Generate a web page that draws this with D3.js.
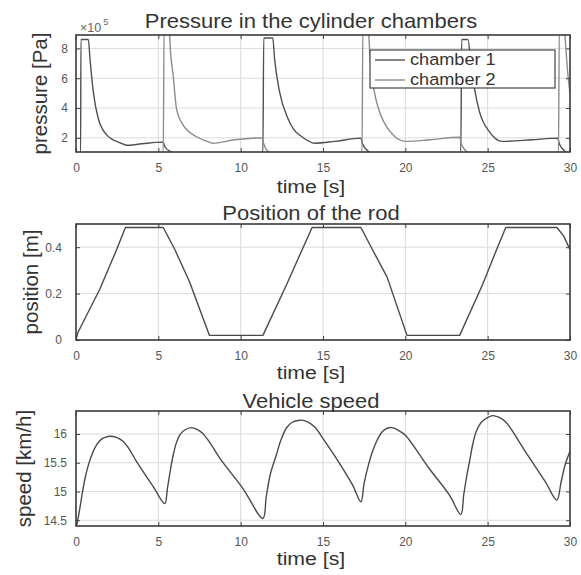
<!DOCTYPE html>
<html>
<head>
<meta charset="utf-8">
<title>Pressure, position and speed</title>
<style>
  body { margin: 0; background: #fff; }
  svg { display: block; font-family: "Liberation Sans", Arial, sans-serif; }
  .tick text { fill: #555; font-size: 12px; }
  .tick line { stroke: #444; }
</style>
</head>
<body>
<svg id="chart" width="581" height="575"></svg>
<script src="https://d3js.org/d3.v7.min.js"></script>
<script>
// time axis, shared by the three plots
const xTicks = [0, 5, 10, 15, 20, 25, 30];

// pressure in chamber 1 [x 10^5 Pa]
const c1Time = [0, 0.28, 0.3, 0.75, 0.85, 1.05, 1.35, 1.6, 1.86, 2.2, 2.67, 3.07, 4.0, 5.3, 5.4, 5.7, 5.9,
  11.35, 11.4, 11.95, 12.06, 12.36, 12.87, 13.2, 13.7, 14.5, 15.7, 17.3, 17.4, 17.75, 17.95,
  23.37, 23.42, 23.8, 24.0, 24.2, 24.5, 25.1, 25.9, 27.7, 29.25, 29.35, 29.7, 29.9, 30];
const c1Pres = [1.0, 1.0, 8.6, 8.6, 7.3, 5.1, 3.3, 2.6, 2.2, 1.9, 1.67, 1.5, 1.6, 1.71, 1.4, 1.1, 1.0,
  1.0, 8.7, 8.7, 7.3, 5.1, 3.3, 2.6, 2.09, 1.64, 1.76, 1.98, 1.6, 1.1, 1.0,
  1.0, 8.6, 8.6, 6.8, 5.3, 3.76, 2.42, 1.76, 1.87, 1.98, 1.6, 1.1, 1.0, 1.0];

// pressure in chamber 2 [x 10^5 Pa]
const c2Time = [0, 5.3, 5.35, 5.65, 5.75, 5.9, 6.1, 6.5, 7.3, 8.1, 8.3, 9.64, 11.3, 11.4, 11.65, 11.85,
  17.37, 17.42, 17.75, 17.85, 18.1, 18.4, 19.0, 20.0, 21.5, 23.3, 23.4, 23.7, 23.9,
  29.3, 29.35, 29.65, 29.75, 29.85, 30];
const c2Pres = [1.0, 1.0, 9.3, 9.3, 7.6, 6.2, 3.98, 2.87, 2.09, 1.71, 1.64, 1.87, 2.0, 1.6, 1.1, 1.0,
  1.0, 9.3, 9.3, 7.5, 5.2, 3.87, 2.53, 1.76, 1.87, 2.04, 1.6, 1.1, 1.0,
  1.0, 9.3, 9.3, 8.0, 6.5, 5.0];

// rod position [m]
const posTime = [0, 0.1, 1.45, 2.47, 3.0, 5.3, 6.0, 6.9, 8.1, 11.35, 12.8, 13.8, 14.34, 17.3, 18.0, 18.9, 20.1,
  23.3, 24.7, 25.6, 26.1, 29.2, 29.6, 30];
const posVal = [0, 0.03, 0.22, 0.39, 0.485, 0.485, 0.39, 0.25, 0.02, 0.02, 0.24, 0.40, 0.485, 0.485, 0.39, 0.27, 0.02,
  0.02, 0.24, 0.40, 0.485, 0.485, 0.45, 0.39];

// vehicle speed [km/h]
const spdTime = [0.05, 0.2, 0.4, 0.55, 0.85, 1.25, 1.55, 1.86, 2.1, 2.45, 2.87, 3.2, 3.68, 4.7, 5.39,
  5.55, 5.75, 5.9, 6.1, 6.3, 6.6, 7.0, 7.35, 7.7, 8.2, 8.73, 10.14, 11.35,
  11.55, 11.8, 12.16, 12.45, 12.77, 13.1, 13.58, 14.0, 14.5, 15.0, 15.8, 16.8, 17.3,
  17.5, 17.75, 18.0, 18.3, 18.6, 18.9, 19.2, 19.6, 20.0, 21.45, 22.67, 23.37,
  23.55, 23.75, 23.9, 24.1, 24.3, 24.6, 24.9, 25.3, 25.7, 26.1, 27.3, 28.5, 29.2, 29.45, 29.7, 30];
const spdVal = [14.42, 14.65, 15.0, 15.23, 15.55, 15.81, 15.91, 15.95, 15.96, 15.94, 15.87, 15.75, 15.52, 15.08, 14.79,
  15.05, 15.4, 15.63, 15.85, 15.98, 16.07, 16.11, 16.08, 16.01, 15.82, 15.58, 15.05, 14.53,
  14.9, 15.3, 15.63, 15.9, 16.1, 16.2, 16.24, 16.22, 16.12, 15.92, 15.58, 15.11, 14.82,
  15.15, 15.45, 15.69, 15.9, 16.04, 16.1, 16.11, 16.06, 15.98, 15.4, 14.94, 14.6,
  14.95, 15.3, 15.52, 15.83, 16.04, 16.2, 16.27, 16.32, 16.29, 16.21, 15.69, 15.17, 14.85, 15.15, 15.46, 15.7];

const presTicks = [2, 4, 6, 8];
const posTicks = [0, 0.2, 0.4];
const spdTicks = [14.5, 15, 15.5, 16];

const svg = d3.select("#chart");
const left = 76, right = 570;
const x = d3.scaleLinear().domain([0, 30]).range([left, right]);

const zip = (t, v) => t.map((d, i) => ({ t: d, v: v[i] }));

const panels = [
  {
    top: 35, bottom: 152, domain: [1.05, 8.9], ticks: presTicks, pad: 8,
    title: "Pressure in the cylinder chambers", titleY: 28,
    ylabel: "pressure [Pa]", ylabelX: 47, xlabelY: 193,
    series: [
      { data: zip(c1Time, c1Pres), color: "#505050", curve: d3.curveMonotoneX },
      { data: zip(c2Time, c2Pres), color: "#8c8c8c", curve: d3.curveMonotoneX }
    ]
  },
  {
    top: 224, bottom: 340, domain: [0, 0.5], ticks: posTicks, pad: 14,
    title: "Position of the rod", titleY: 220,
    ylabel: "position [m]", ylabelX: 38, xlabelY: 379,
    series: [{ data: zip(posTime, posVal), color: "#4a4a4a", curve: d3.curveLinear }]
  },
  {
    top: 411, bottom: 526, domain: [14.4, 16.4], ticks: spdTicks, pad: 9,
    title: "Vehicle speed", titleY: 408,
    ylabel: "speed [km/h]", ylabelX: 31, xlabelY: 565,
    series: [{ data: zip(spdTime, spdVal), color: "#4a4a4a", curve: d3.curveCatmullRom.alpha(0.5) }]
  }
];

panels.forEach((p, i) => {
  const y = d3.scaleLinear().domain(p.domain).range([p.bottom, p.top]);
  const g = svg.append("g");

  svg.append("clipPath").attr("id", "clip" + i)
    .append("rect")
    .attr("x", left).attr("y", p.top)
    .attr("width", right - left).attr("height", p.bottom - p.top);

  // grid
  g.append("g").selectAll("line")
    .data(xTicks.slice(1, -1))
    .enter().append("line")
    .attr("x1", d => x(d)).attr("x2", d => x(d))
    .attr("y1", p.top).attr("y2", p.bottom)
    .attr("stroke", "#dadada");
  g.append("g").selectAll("line")
    .data(p.ticks)
    .enter().append("line")
    .attr("x1", left).attr("x2", right)
    .attr("y1", d => y(d)).attr("y2", d => y(d))
    .attr("stroke", "#dadada");

  // curves
  p.series.forEach(s => {
    g.append("path")
      .datum(s.data)
      .attr("clip-path", `url(#clip${i})`)
      .attr("fill", "none")
      .attr("stroke", s.color)
      .attr("stroke-width", 1.4)
      .attr("stroke-linejoin", "round")
      .attr("d", d3.line().x(d => x(d.t)).y(d => y(d.v)).curve(s.curve));
  });

  // axes with inward ticks
  g.append("g").attr("transform", `translate(0,${p.bottom})`)
    .call(d3.axisBottom(x).tickValues(xTicks).tickSize(-4).tickPadding(11).tickFormat(d => d))
    .call(a => a.select(".domain").remove());
  g.append("g").attr("transform", `translate(0,${p.top})`)
    .call(d3.axisTop(x).tickValues(xTicks).tickSize(-4).tickFormat(""))
    .call(a => a.select(".domain").remove());
  g.append("g").attr("transform", `translate(${left},0)`)
    .call(d3.axisLeft(y).tickValues(p.ticks).tickSize(-4).tickPadding(p.pad).tickFormat(d => d))
    .call(a => a.select(".domain").remove());
  g.append("g").attr("transform", `translate(${right},0)`)
    .call(d3.axisRight(y).tickValues(p.ticks).tickSize(-4).tickFormat(""))
    .call(a => a.select(".domain").remove());
  g.selectAll(".tick text").attr("font-family", null).attr("font-size", null);

  // frame
  g.append("rect")
    .attr("x", left).attr("y", p.top)
    .attr("width", right - left).attr("height", p.bottom - p.top)
    .attr("fill", "none").attr("stroke", "#3a3a3a").attr("stroke-width", 1.6);

  // texts
  g.append("text")
    .attr("transform", `translate(311,${p.titleY}) scale(1.1,1)`)
    .attr("text-anchor", "middle")
    .attr("font-size", 20).attr("fill", "#333")
    .text(p.title);
  g.append("text")
    .attr("transform", `translate(311,${p.xlabelY}) scale(1.12,1)`)
    .attr("text-anchor", "middle")
    .attr("font-size", 19).attr("fill", "#333")
    .text("time [s]");
  g.append("text")
    .attr("transform", `translate(${p.ylabelX},${(p.top + p.bottom) / 2}) rotate(-90)`)
    .attr("text-anchor", "middle")
    .attr("font-size", 20.5).attr("fill", "#333")
    .text(p.ylabel);
});

// exponent label of the pressure axis
const expo = svg.append("text").attr("x", 80).attr("y", 32).attr("font-size", 12.5).attr("fill", "#666");
expo.append("tspan").text("×10");
expo.append("tspan").attr("dy", -7).attr("dx", 2).attr("font-size", 9).text("5");

// legend
const legend = svg.append("g");
legend.append("rect")
  .attr("x", 370).attr("y", 50).attr("width", 185).attr("height", 38)
  .attr("fill", "#fff").attr("stroke", "#444").attr("stroke-width", 1.2);
const legendItems = legend.selectAll(".legend-item")
  .data([{ name: "chamber 1", color: "#505050" }, { name: "chamber 2", color: "#8c8c8c" }])
  .enter().append("g")
  .attr("class", "legend-item")
  .attr("transform", (d, i) => `translate(0,${60 + i * 20})`);
legendItems.append("line")
  .attr("x1", 375).attr("x2", 405)
  .attr("stroke", d => d.color).attr("stroke-width", 1.4);
legendItems.append("text")
  .attr("transform", "translate(410,5) scale(1.1,1)")
  .attr("font-size", 16.5).attr("fill", "#333")
  .text(d => d.name);
</script>
</body>
</html>
